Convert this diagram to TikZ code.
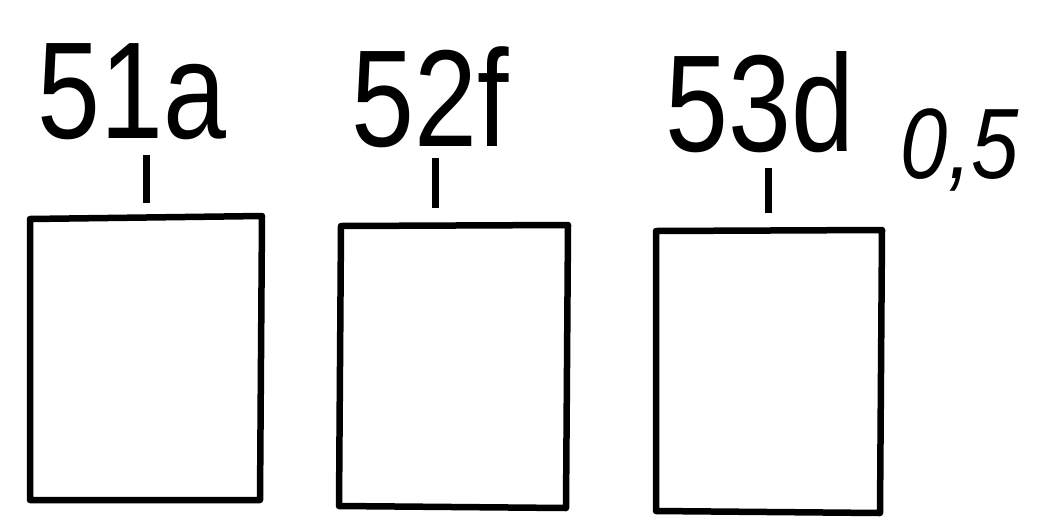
\documentclass[tikz,border=0pt]{standalone}
\usepackage{fontspec}
\setmainfont{Liberation Sans}
\begin{document}
\begin{tikzpicture}[x=1pt,y=-1pt,
  boxst/.style={draw=black,line width=6.5pt,line join=round},
  tickst/.style={draw=black,line width=7pt},
  lbl/.style={font=\fontsize{138}{138}\selectfont,inner sep=0pt},
  smalllbl/.style={font=\fontsize{100}{100}\selectfont\itshape,inner sep=0pt}]
\useasboundingbox (0,0) rectangle (1046,528);
\fill[white] (0,0) rectangle (1046,528);
% boxes
\draw[boxst] (30,219) -- (262,216) -- (260,500) -- (30,500) -- cycle;
\coordinate (b1) at (146,217);
\draw[boxst] (341,226) -- (568,225) -- (566,508) -- (339,506) -- cycle;
\coordinate (b2) at (435,225);
\draw[boxst] (656,231) -- (882,230) -- (880,513) -- (656,511) -- cycle;
\coordinate (b3) at (768,230);
% ticks
\coordinate (t1) at (146,155);
\coordinate (t2) at (435,158);
\coordinate (t3) at (768,168);
\draw[tickst] (t1) -- ([yshift=14pt]b1);
\draw[tickst] (t2) -- ([yshift=17pt]b2);
\draw[tickst] (t3) -- ([yshift=17pt]b3);
% labels
\node[lbl] (l1) at (132,92) {\scalebox{0.82}[1]{51a}};
\node[lbl] (l2) at (430,97) {\scalebox{0.82}[1]{52f}};
\node[lbl] (l3) at (760,102) {\scalebox{0.82}[1]{53d}};
\node[smalllbl] (l4) at (960,150) {\scalebox{0.85}[1]{0,5}};
\end{tikzpicture}
\end{document}
